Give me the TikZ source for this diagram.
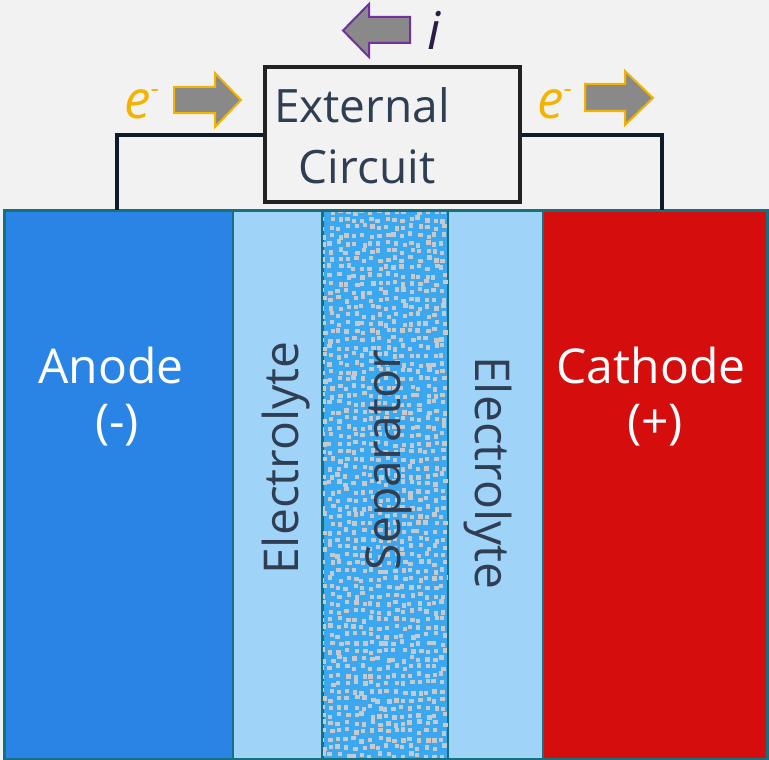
\documentclass[tikz,border=0pt]{standalone}
\usepackage{fontspec}
\setmainfont{Open Sans}
\definecolor{bgcol}{HTML}{F2F2F2}
\definecolor{anodecol}{HTML}{2A84E6}
\definecolor{elcol}{HTML}{9FD3F8}
\definecolor{sepcol}{HTML}{3BA7EF}
\definecolor{dotcol}{HTML}{C6CACE}
\definecolor{cathcol}{HTML}{D50D0D}
\definecolor{edgecol}{HTML}{17707F}
\definecolor{txtcol}{HTML}{2F3E52}
\definecolor{wirecol}{HTML}{0E1B2A}
\definecolor{boxcol}{HTML}{222222}
\definecolor{ecol}{HTML}{F2B400}
\definecolor{arrfill}{HTML}{898989}
\definecolor{purp}{HTML}{7030A0}
\definecolor{icol}{HTML}{2B1D45}
\begin{document}
\begin{tikzpicture}[x=1pt,y=-1pt,
  layer/.style={draw=edgecol, line width=1.5pt, inner sep=0pt, minimum height=548pt, anchor=north west},
  big/.style={font=\fontsize{48}{58}\selectfont},
  wire/.style={draw=wirecol, line width=4pt},
  eflow/.style={draw=ecol, fill=arrfill, line width=2pt, line join=miter},
  iflow/.style={draw=purp, fill=arrfill, line width=2pt, line join=miter},
  elabel/.style={font=\fontsize{53}{53}\selectfont\itshape, text=ecol, anchor=base west, inner sep=0pt}]
\useasboundingbox (0,0) rectangle (769,760);
\fill[bgcol] (0,0) rectangle (769,760);
% layers
\node[layer, fill=anodecol, minimum width=228pt] (anode) at (4,210) {};
\node[layer, fill=elcol, minimum width=90pt] (elA) at (232,210) {};
\node[layer, fill=sepcol, minimum width=125pt] (sep) at (322,210) {};
\node[layer, fill=elcol, minimum width=95pt] (elB) at (447,210) {};
\node[layer, fill=cathcol, minimum width=224pt] (cathode) at (542,210) {};
% separator pattern
\begin{scope}
\clip (sep.north west) rectangle (sep.south east);
\pgfmathsetseed{7}
\foreach \i in {0,...,16}{
  \foreach \j in {0,...,70}{
    \pgfmathsetmacro\dx{rnd*4.5}
    \pgfmathsetmacro\dy{rnd*4.5}
    \fill[dotcol] (319+\i*8+\dx, 207+\j*8+\dy) rectangle ++(4.3,4.3);
  }
}
\end{scope}
\draw[draw=edgecol, line width=1.5pt] (sep.north west) rectangle (sep.south east);
\draw[draw=edgecol, line width=3pt] (anode.north west) rectangle (cathode.south east);
% layer labels
\node[big, text=white, anchor=base] (anodelbl) at (111,383) {Anode};
\node[big, text=white, anchor=base] (anodesgn) at (117,438) {(-)};
\node[big, text=white, anchor=base] (cathlbl) at (651,383) {Cathode};
\node[big, text=white, anchor=base] (cathsgn) at (655,438) {(+)};
\node[big, text=txtcol, anchor=base, rotate=90] (elAlbl) at (298,458) {Electrolyte};
\node[big, text=txtcol, anchor=base, rotate=90] (seplbl) at (400,460) {Separator};
\node[big, text=txtcol, anchor=base, rotate=-90] (elBlbl) at (475,473) {Electrolyte};
% external circuit
\node[draw=boxcol, line width=4pt, minimum width=255pt, minimum height=135pt, inner sep=0pt] (ext) at (392.5,134.5) {};
\coordinate (wl) at (117,210);
\coordinate (wr) at (662,210);
\draw[wire] (wl) |- (ext.west);
\draw[wire] (ext.east) -| (wr);
\node[draw=boxcol, line width=4pt, minimum width=255pt, minimum height=135pt, inner sep=0pt] at (ext) {};
\node[font=\fontsize{46}{46}\selectfont, text=txtcol, anchor=base] (extA) at (362,122) {External};
\node[font=\fontsize{46}{46}\selectfont, text=txtcol, anchor=base] (extB) at (367,183) {Circuit};
% flow arrows
\draw[eflow] (174,87) -- (215,87) -- (215,73) -- (241,100) -- (215,127) -- (215,113) -- (174,113) -- cycle;
\draw[eflow] (585,84) -- (625,84) -- (625,71) -- (653,98) -- (625,125) -- (625,111) -- (585,111) -- cycle;
\draw[iflow] (410,17) -- (369,17) -- (369,4) -- (343,30.5) -- (369,57) -- (369,43) -- (410,43) -- cycle;
\node[elabel] (eL) at (124,118) {e\raisebox{21pt}{\fontsize{26}{26}\selectfont\upshape -}};
\node[elabel] (eR) at (537,118) {e\raisebox{21pt}{\fontsize{26}{26}\selectfont\upshape -}};
\node[font=\fontsize{52}{52}\selectfont\itshape, text=icol, anchor=base west, inner sep=0pt] (ilbl) at (427,50) {i};
\end{tikzpicture}
\end{document}
